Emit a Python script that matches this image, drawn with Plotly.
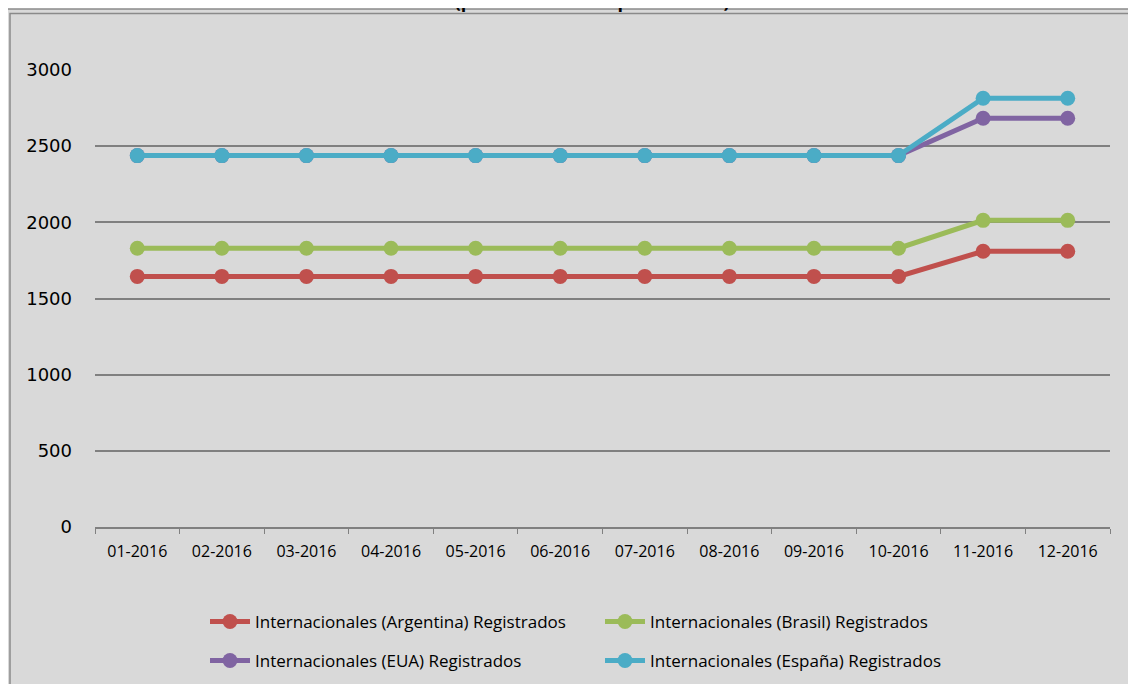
import plotly.graph_objects as go

months = ["01-2016", "02-2016", "03-2016", "04-2016", "05-2016", "06-2016",
          "07-2016", "08-2016", "09-2016", "10-2016", "11-2016", "12-2016"]
argentina = [1645, 1645, 1645, 1645, 1645, 1645, 1645, 1645, 1645, 1645, 1810, 1810]
brasil = [1830, 1830, 1830, 1830, 1830, 1830, 1830, 1830, 1830, 1830, 2013, 2013]
eua = [2438, 2438, 2438, 2438, 2438, 2438, 2438, 2438, 2438, 2438, 2683, 2683]
espana = [2438, 2438, 2438, 2438, 2438, 2438, 2438, 2438, 2438, 2438, 2815, 2815]

series = [
    ("Internacionales (Argentina) Registrados", argentina, "#C0504D", "legend"),
    ("Internacionales (Brasil) Registrados", brasil, "#9BBB59", "legend"),
    ("Internacionales (EUA) Registrados", eua, "#8064A2", "legend2"),
    ("Internacionales (España) Registrados", espana, "#4BACC6", "legend2"),
]

OFF = 8  # page body margin
W, H = 1136 - OFF, 684 - OFF
L, R, T, B = 95 - OFF, 26, 70 - OFF, 157
pw, ph = W - L - R, H - T - B

def px(x):
    return (x - OFF - L) / pw

def py(y):
    return (H - B - (y - OFF)) / ph

def cx(x):
    return (x - OFF) / W

def cy(y):
    return 1 - (y - OFF) / H

fig = go.Figure()
for name, vals, color, lg in series:
    fig.add_trace(go.Scatter(
        x=months, y=vals, name=name, mode="lines+markers",
        line=dict(color=color, width=5),
        marker=dict(color=color, size=15),
        legend=lg,
    ))

# outer double frame
fig.add_shape(type="rect", xref="paper", yref="paper",
              x0=px(4), x1=px(1145), y0=py(9), y1=py(700),
              line=dict(color="#8a8a8a", width=1.5), fillcolor="#D9D9D9", layer="below")
fig.add_shape(type="rect", xref="paper", yref="paper",
              x0=px(10), x1=px(1140), y0=py(13.5), y1=py(695),
              line=dict(color="#8a8a8a", width=1.5), fillcolor="rgba(0,0,0,0)", layer="below")

fig.add_annotation(
    text="<b>Salario mínimo (pesos mexicanos por semana)</b>",
    xref="paper", yref="paper", x=px(732), y=py(15),
    xanchor="right", yanchor="bottom", showarrow=False,
    font=dict(family="Open Sans", size=18, color="#000000"),
)

legfont = dict(family="Open Sans", size=17, color="#000000")
fig.update_layout(
    width=W, height=H,
    margin=dict(l=L, r=R, t=T, b=B, autoexpand=False),
    paper_bgcolor="#FFFFFF",
    plot_bgcolor="rgba(0,0,0,0)",
    showlegend=True,
    legend=dict(orientation="h", xref="container", yref="container",
                x=cx(205), y=cy(622), yanchor="middle", xanchor="left",
                font=legfont, bgcolor="rgba(0,0,0,0)", entrywidth=340, entrywidthmode="pixels",
                itemwidth=40),
    legend2=dict(orientation="h", xref="container", yref="container",
                 x=cx(205), y=cy(661), yanchor="middle", xanchor="left",
                 font=legfont, bgcolor="rgba(0,0,0,0)", entrywidth=340, entrywidthmode="pixels",
                 itemwidth=40),
    xaxis=dict(
        type="category", showgrid=False, showline=True, linecolor="#808080", linewidth=1.5,
        ticks="outside", ticklen=5, tickcolor="#808080", tickson="boundaries",
        ticklabelstandoff=9,
        tickfont=dict(family="Open Sans", size=16, color="#000000"),
        range=[-0.5, 11.5], zeroline=False,
    ),
    yaxis=dict(
        range=[0, 3000], tickvals=[0, 500, 1000, 1500, 2000, 2500, 3000],
        showgrid=True, gridcolor="#808080", gridwidth=1.5, zeroline=False,
        showline=False, ticks="", ticklabelstandoff=22,
        tickfont=dict(family="DejaVu Sans", size=18, color="#000000"),
    ),
    hovermode=False,
)

fig.write_html("out.html")
